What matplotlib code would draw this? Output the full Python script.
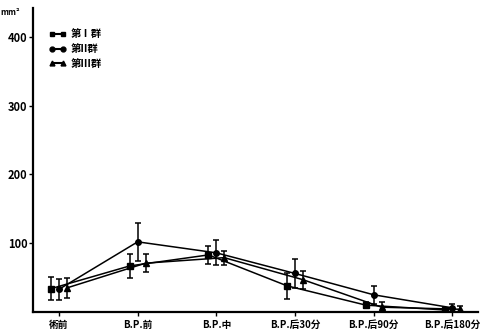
import numpy as np
import matplotlib
matplotlib.use("Agg")
import matplotlib.pyplot as plt
from matplotlib.lines import Line2D

plt.rcParams["font.family"] = ["Noto Sans CJK SC", "DejaVu Sans"]

stages = ["術前", "B.P.前", "B.P.中", "B.P.后30分", "B.P.后90分", "B.P.后180分"]
groups = ["第Ⅰ群", "第II群", "第III群"]

# area (mm²), mean and SD per stage
mean_g1 = [34, 67, 83, 38, 10, 3]
sd_g1 = [17, 18, 13, 19, 4, 2]
mean_g2 = [33, 102, 86, 56, 25, 6]
sd_g2 = [15, 28, 18, 21, 13, 6]
mean_g3 = [35, 71, 79, 47, 7, 4]
sd_g3 = [15, 13, 10, 13, 8, 5]

means = [mean_g1, mean_g2, mean_g3]
sds = [sd_g1, sd_g2, sd_g3]
markers = ["s", "o", "^"]
offsets = [-0.1, 0.0, 0.1]

fig = plt.figure(figsize=(4.82, 3.36), dpi=100)
ax = fig.add_axes([0.0685, 0.0714, 0.924, 0.905])

x = np.arange(len(stages))
for m, s, mk, off in zip(means, sds, markers, offsets):
    ax.errorbar(x + off, m, yerr=s, color="black", lw=1.1, marker=mk, ms=4,
                capsize=2.5, capthick=1.1, elinewidth=1.1)

ax.set_xlim(-0.33, 5.33)
ax.set_ylim(0, 442)
ax.set_xticks(x)
ax.set_xticklabels(stages, fontsize=7, fontweight="bold")
ax.set_yticks([100, 200, 300, 400])
ax.set_yticklabels(["100", "200", "300", "400"], fontsize=8, fontweight="bold")
ax.tick_params(axis="x", direction="out", length=3, width=1, pad=3)
ax.tick_params(axis="y", direction="out", length=3, width=1, pad=1)
for side in ["top", "right"]:
    ax.spines[side].set_visible(False)
for side in ["left", "bottom"]:
    ax.spines[side].set_linewidth(1.6)

ax.text(-0.03, 1.0, "mm²", transform=ax.transAxes, fontsize=6,
        fontweight="bold", ha="right", va="top")

# legend keys: a short bar with the group marker at both ends
handles = [Line2D([], [], color="black", lw=1.5, marker=mk, ms=3.5)
           for mk in markers]
ax.legend(handles, groups, loc="upper left", bbox_to_anchor=(0.015, 0.96),
          frameon=False, numpoints=2, handlelength=1.6, labelspacing=0.45,
          handletextpad=0.5, prop={"weight": "bold", "size": 7.5})

fig.savefig("out.png", dpi=100)
